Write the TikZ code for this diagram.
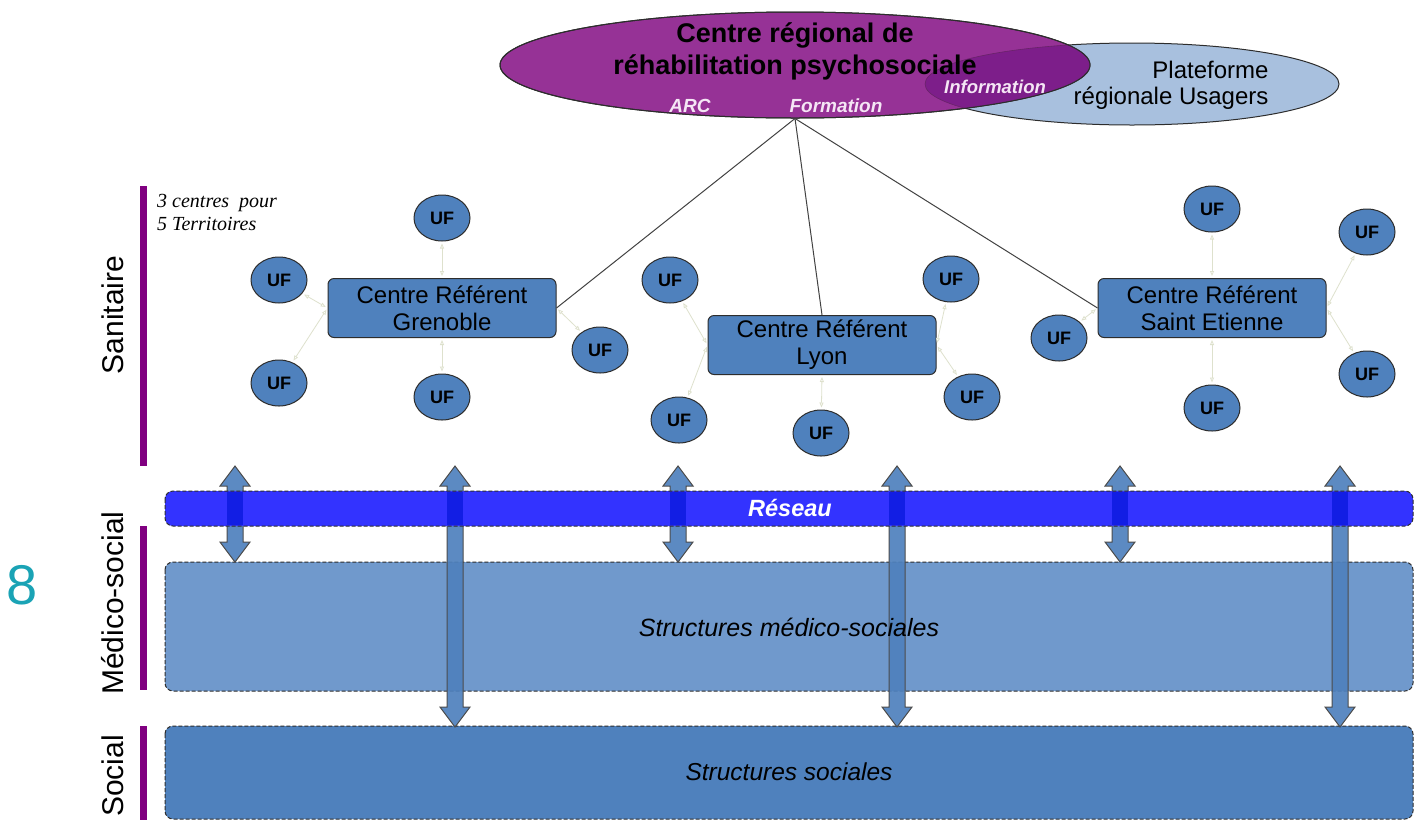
\documentclass[tikz,border=0pt]{standalone}
\usepackage{fontspec}
\setmainfont{Liberation Sans}
\newfontfamily\serifit{Liberation Serif}
\usetikzlibrary{shapes.geometric,arrows.meta}
\definecolor{ufblue}{RGB}{79,129,189}
\definecolor{medblue}{RGB}{112,153,204}
\definecolor{resblue}{RGB}{51,51,255}
\definecolor{resdark}{RGB}{18,30,228}
\definecolor{crpurple}{RGB}{150,50,150}
\definecolor{crdark}{RGB}{125,30,138}
\definecolor{plblue}{RGB}{168,192,222}
\definecolor{barpurple}{RGB}{128,0,128}
\definecolor{edge}{RGB}{45,45,45}
\definecolor{faint}{RGB}{222,225,205}
\definecolor{eight}{RGB}{26,163,181}
\definecolor{pinkwhite}{RGB}{245,230,245}
\newcommand\blockarrow[3]{%
  \filldraw[blockarr] ({#1-8},{#2+20}) -- ({#1-15},{#2+20}) -- (#1,#2) -- ({#1+15},{#2+20}) -- ({#1+8},{#2+20})
  -- ({#1+8},{#3-20}) -- ({#1+15},{#3-20}) -- (#1,#3) -- ({#1-15},{#3-20}) -- ({#1-8},{#3-20}) -- cycle;}
\tikzset{
  ufnode/.style={ellipse, fill=ufblue, draw=edge, line width=1pt, minimum width=56pt, minimum height=46pt, inner sep=0pt, font=\bfseries\fontsize{18}{20}\selectfont},
  centrebox/.style={rounded corners=6pt, fill=ufblue, draw=edge, line width=1pt, minimum width=228pt, minimum height=59pt, align=center, inner sep=0pt, font=\fontsize{24}{27}\selectfont},
  faintarr/.style={draw=faint, line width=0.8pt, {Triangle[open,length=5pt,width=4pt]}-{Triangle[open,length=5pt,width=4pt]}, shorten <=2pt, shorten >=2pt},
  mainline/.style={draw=edge!90, line width=1pt},
  band/.style={draw=edge, line width=1pt, dash pattern=on 4pt off 2pt, rounded corners=8pt},
  blockarr/.style={fill=ufblue, fill opacity=0.92, draw=edge!85, line width=1pt},
  vbar/.style={fill=barpurple, draw=none},
  sidelabel/.style={rotate=90, font=\fontsize{30}{32}\selectfont},
  wlabel/.style={text=pinkwhite, font=\bfseries\itshape\fontsize{19}{20}\selectfont},
  structtxt/.style={font=\itshape\fontsize{25}{28}\selectfont}
}
\begin{document}
\begin{tikzpicture}[x=1pt,y=-1pt]
\useasboundingbox (0,0) rectangle (1423,820);
\fill[white] (0,0) rectangle (1423,820);

% ellipses
\node[ellipse, fill=plblue, draw=edge, line width=1pt, minimum width=414pt, minimum height=82pt, inner sep=0pt] (plat) at (1132,84) {};
\node[ellipse, fill=crpurple, draw=edge, line width=1pt, minimum width=590pt, minimum height=106pt, inner sep=0pt] (crp) at (795,65) {};
\begin{scope}
  \clip (795,65) ellipse [x radius=295, y radius=53];
  \fill[crdark] (1132,84) ellipse [x radius=207, y radius=41];
  \draw[crpurple!70!black, line width=0.6pt] (1132,84) ellipse [x radius=207, y radius=41];
\end{scope}
\draw[edge, line width=1pt] (795,65) ellipse [x radius=295, y radius=53];

\node[font=\bfseries\fontsize{27}{32}\selectfont, align=center] (crptxt) at (795,51) {Centre régional de\\réhabilitation psychosociale};
\node[wlabel] (arc) at (690,106) {ARC};
\node[wlabel] (form) at (836,106) {Formation};
\node[wlabel, font=\bfseries\itshape\fontsize{18.5}{20}\selectfont] (info) at (995,87) {Information};
\node[font=\fontsize{24}{26}\selectfont, align=right, anchor=east] (plattxt) at (1272,85) {Plateforme\\régionale Usagers};

% side bars and labels
\fill[vbar] (140,186) rectangle (147,466);
\fill[vbar] (140,526) rectangle (147,690);
\fill[vbar] (140,726) rectangle (147,820);
\node[sidelabel] (lsan) at (113,315) {Sanitaire};
\node[sidelabel] (lmed) at (113,603) {Médico-social};
\node[sidelabel] (lsoc) at (113,776) {Social};
\node[text=eight, font=\fontsize{56}{60}\selectfont] (num) at (22,585) {8};
\node[anchor=north west, align=left, font=\serifit\itshape\fontsize{20}{23}\selectfont, inner sep=0pt] (terr) at (157,194) {3 centres \ pour\\5 Territoires};

% lower structures
\filldraw[band, fill=medblue] (165,562) rectangle (1413,691);
\filldraw[band, fill=ufblue] (165,726) rectangle (1413,819);

% block arrows
\blockarrow{235}{466}{562}
\blockarrow{455}{466}{727}
\blockarrow{678}{466}{562}
\blockarrow{897}{466}{727}
\blockarrow{1120}{466}{562}
\blockarrow{1340}{466}{727}

\node[structtxt] (medtxt) at (789,627) {Structures médico-sociales};
\node[structtxt, font=\itshape\fontsize{24.5}{28}\selectfont] (soctxt) at (789,772) {Structures sociales};

% reseau band
\filldraw[band, fill=resblue] (165,491) rectangle (1413,526);
\foreach \ax in {235,455,678,897,1120,1340} {
  \fill[resdark] ({\ax-8},492) rectangle ({\ax+8},525);
}
\node[text=white, font=\bfseries\itshape\fontsize{23.5}{26}\selectfont] (res) at (790,508) {Réseau};

% centres
\node[centrebox] (gre) at (442,308) {Centre Référent\\Grenoble};
\node[centrebox] (lyo) at (822,345) {Centre Référent\\Lyon};
\node[centrebox] (ste) at (1212,308) {Centre Référent\\Saint Etienne};

\draw[mainline] (crp.south) -- (gre.east);
\draw[mainline] (crp.south) -- (lyo.north);
\draw[mainline] (crp.south) -- (ste.west);

% UF nodes
\node[ufnode] (g1) at (442,218) {UF};
\node[ufnode] (g2) at (279,280) {UF};
\node[ufnode] (g3) at (600,350) {UF};
\node[ufnode] (g4) at (279,383) {UF};
\node[ufnode] (g5) at (442,397) {UF};
\node[ufnode] (l1) at (670,280) {UF};
\node[ufnode] (l2) at (951,279) {UF};
\node[ufnode] (l3) at (821,433) {UF};
\node[ufnode] (l4) at (679,420) {UF};
\node[ufnode] (l5) at (972,397) {UF};
\node[ufnode] (s1) at (1212,209) {UF};
\node[ufnode] (s2) at (1367,232) {UF};
\node[ufnode] (s3) at (1059,338) {UF};
\node[ufnode] (s4) at (1367,374) {UF};
\node[ufnode] (s5) at (1212,408) {UF};

\draw[faintarr] (g1) -- (gre.north);
\draw[faintarr] (g2) -- (gre.west);
\draw[faintarr] (g4) -- (gre.west);
\draw[faintarr] (g3) -- (gre.east);
\draw[faintarr] (g5) -- (gre.south);
\draw[faintarr] (l1) -- (lyo.west);
\draw[faintarr] (l4) -- (lyo.west);
\draw[faintarr] (l2) -- (lyo.east);
\draw[faintarr] (l5) -- (lyo.east);
\draw[faintarr] (l3) -- (lyo.south);
\draw[faintarr] (s1) -- (ste.north);
\draw[faintarr] (s2) -- (ste.east);
\draw[faintarr] (s4) -- (ste.east);
\draw[faintarr] (s3) -- (ste.west);
\draw[faintarr] (s5) -- (ste.south);
\end{tikzpicture}
\end{document}
